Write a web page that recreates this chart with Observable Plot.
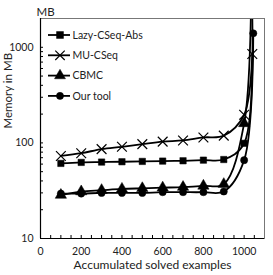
<!DOCTYPE html>
<html>
<head>
<meta charset="utf-8">
<script src="https://cdn.jsdelivr.net/npm/d3@7"></script>
<script src="https://cdn.jsdelivr.net/npm/@observablehq/plot@0.6"></script>
<style>
body { margin: 0; background: #fff; }
#wrap { position: relative; width: 273px; height: 275px; font-family: Lato, "Open Sans", sans-serif; }
#legend { position: absolute; left: 0; top: 0; }
</style>
</head>
<body>
<div id="wrap"></div>
<script>
const seriesNames = ["Lazy-CSeq-Abs", "MU-CSeq", "CBMC", "Our tool"];
const symbols = ["square", "times", "triangle", "circle"];
const lazyX = [100, 200, 300, 400, 500, 600, 700, 800, 900, 1000, 1035];
const lazyY = [61, 62.5, 63, 63.5, 64, 64.5, 65, 66, 67, 99, 5000];
const muX = [100, 200, 300, 400, 500, 600, 700, 800, 900, 1000, 1040];
const muY = [73, 78, 86, 91, 97, 103, 106, 114, 119, 197, 850];
const cbmcX = [100, 200, 300, 400, 500, 600, 700, 800, 900, 1000, 1035];
const cbmcY = [28.5, 31, 32, 33, 33.5, 34, 34.5, 35.5, 37, 160, 5000];
const oursX = [100, 200, 300, 400, 500, 600, 700, 800, 900, 1000, 1045];
const oursY = [29.5, 29.5, 30, 30, 30, 30.5, 30.5, 30.5, 31, 66, 1400];
const xTickLabels = [0, 200, 400, 600, 800, 1000];
const xMinorTicks = d3.range(0, 1101, 50);
const yTickLabels = [10, 100, 1000];
const yMinorTicks = [20,30,40,50,60,70,80,90,100,200,300,400,500,600,700,800,900,1000,2000];

const allX = [lazyX, muX, cbmcX, oursX];
const allY = [lazyY, muY, cbmcY, oursY];
const data = [];
seriesNames.forEach((s, k) => allX[k].forEach((x, i) => data.push({series: s, x, y: allY[k][i], sym: symbols[k]})));

const W = 273, H = 275, mt = 18, mr = 9, mb = 37, ml = 40;
const pw = W - ml - mr, ph = H - mt - mb;
const font = "Lato, 'Open Sans', sans-serif";

const chart = Plot.plot({
  width: W, height: H,
  marginTop: mt, marginRight: mr, marginBottom: mb, marginLeft: ml,
  style: {fontFamily: font, fontSize: "10.5px", color: "#222", background: "#fff"},
  x: {domain: [0, 1100]},
  y: {type: "log", domain: [10, 2000]},
  marks: [
    Plot.ruleX(xMinorTicks, {x: d => d, insetTop: ph - 3, stroke: "#000", strokeWidth: 1}),
    Plot.ruleY(yMinorTicks, {y: d => d, insetRight: pw - 3, stroke: "#000", strokeWidth: 1}),
    ...seriesNames.map((s, k) =>
      Plot.line(data.filter(d => d.series === s), {x: "x", y: "y", curve: "catmull-rom", stroke: "#000", strokeWidth: 1.8, clip: true})),
    ...seriesNames.map((s, k) =>
      Plot.dot(data.filter(d => d.series === s), {x: "x", y: "y", symbol: symbols[k],
        r: k === 1 ? 4.5 : k === 2 ? 4.2 : 3.6,
        fill: k === 1 ? "none" : "#000", stroke: "#000", strokeWidth: k === 1 ? 1.2 : 0.5, clip: true})),
    Plot.frame({stroke: "#777", strokeWidth: 1}),
    Plot.ruleY([10], {stroke: "#000", strokeWidth: 1.2}),
    Plot.ruleX([0], {stroke: "#000", strokeWidth: 1.2}),
    Plot.axisX({ticks: xTickLabels, tickSize: 0, tickPadding: 9, tickFormat: d => String(d), fontSize: 10.5, label: null}),
    Plot.axisY({ticks: yTickLabels, tickSize: 0, tickPadding: 7, tickFormat: d => String(d), fontSize: 10.5, label: null}),
    Plot.text(["Accumulated solved examples"], {frameAnchor: "bottom", dy: 30, fontSize: 12, fill: "#222"}),
    Plot.text(["Memory in MB"], {frameAnchor: "left", dx: -32, rotate: -90, fontSize: 11.5, fill: "#222"}),
    Plot.text(["MB"], {frameAnchor: "top-left", dx: -4, dy: -11, fontSize: 11.5, fill: "#222"})
  ]
});
document.getElementById("wrap").appendChild(chart);

// legend overlay (inside plot area, top-left)
const lg = d3.select("#wrap").append("svg").attr("id", "legend").attr("width", W).attr("height", H);
const lx0 = 48, lx1 = 70, ly0 = 35, lstep = 20.3;
seriesNames.forEach((s, k) => {
  const y = ly0 + k * lstep;
  const g = lg.append("g");
  g.append("line").attr("x1", lx0).attr("x2", lx1).attr("y1", y).attr("y2", y).attr("stroke", "#000").attr("stroke-width", 1.8);
  const sym = d3.symbol(k === 0 ? d3.symbolSquare : k === 1 ? d3.symbolTimes : k === 2 ? d3.symbolTriangle : d3.symbolCircle,
    k === 1 ? 60 : k === 2 ? 52 : k === 0 ? 48 : 40);
  g.append("path").attr("d", sym()).attr("transform", `translate(${(lx0 + lx1) / 2 + 1},${y})`)
    .attr("fill", k === 1 ? "none" : "#000").attr("stroke", "#000").attr("stroke-width", k === 1 ? 1.2 : 0.5);
  g.append("text").attr("x", lx1 + 2.5).attr("y", y).attr("dy", "0.35em").attr("font-size", 10.5)
    .attr("font-family", font).attr("fill", "#222").text(s);
});
</script>
</body>
</html>
